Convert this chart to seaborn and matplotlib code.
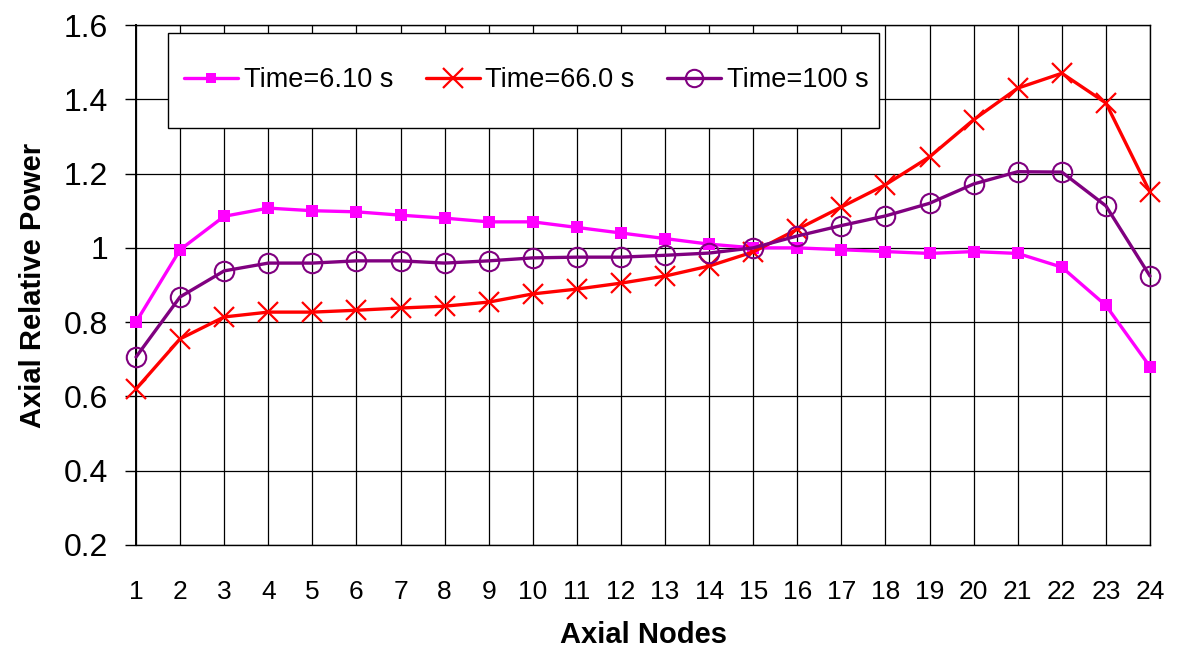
import numpy as np
import pandas as pd
import seaborn as sns
import matplotlib.pyplot as plt
from matplotlib.patches import Rectangle
from matplotlib.ticker import FuncFormatter

nodes = list(range(1, 25))

power_610 = [0.80, 0.995, 1.085, 1.107, 1.10, 1.097, 1.088, 1.08, 1.07, 1.07, 1.055, 1.04,
             1.025, 1.01, 1.0, 1.0, 0.995, 0.99, 0.985, 0.99, 0.985, 0.948, 0.845, 0.68]
power_660 = [0.62, 0.755, 0.814, 0.827, 0.827, 0.832, 0.838, 0.843, 0.854, 0.876, 0.889, 0.905,
             0.924, 0.951, 0.989, 1.05, 1.11, 1.17, 1.245, 1.345, 1.43, 1.47, 1.39, 1.15]
power_100 = [0.706, 0.868, 0.938, 0.959, 0.959, 0.965, 0.965, 0.959, 0.965, 0.973, 0.975, 0.975,
             0.98, 0.986, 1.0, 1.032, 1.06, 1.086, 1.12, 1.172, 1.205, 1.204, 1.113, 0.924]

labels = ["Time=6.10 s", "Time=66.0 s", "Time=100 s"]
colors = ["#FF00FF", "#FF0000", "#800080"]
yTicks = [0.2, 0.4, 0.6, 0.8, 1.0, 1.2, 1.4, 1.6]

sns.set_style("white")
plt.rcParams['font.family'] = ['Liberation Sans', 'DejaVu Sans']
plt.rcParams['text.color'] = 'black'
plt.rcParams['axes.labelcolor'] = 'black'
plt.rcParams['xtick.color'] = 'black'
plt.rcParams['ytick.color'] = 'black'

fig = plt.figure(figsize=(11.78, 6.54), dpi=100)
ax = fig.add_axes([136 / 1178, 1 - 545 / 654, 1014 / 1178, 520 / 654])

# one lineplot per series so each gets its own marker style
styles = [
    dict(marker="s", markersize=9, markeredgewidth=0),
    dict(marker="x", markersize=14, markeredgewidth=1.6),
    dict(marker="o", markersize=14, markeredgewidth=1.5, markerfacecolor="none"),
]
for vals, lab, col, st in zip([power_610, power_660, power_100], labels, colors, styles):
    df = pd.DataFrame({"node": nodes, "power": vals})
    sns.lineplot(data=df, x="node", y="power", color=col, linewidth=2.4,
                 markeredgecolor=col, label=lab, ax=ax, clip_on=False, zorder=3, **st)

ax.set_xlim(1, 24)
ax.set_ylim(0.2, 1.6)
ax.set_xticks(nodes)
ax.set_yticks(yTicks)
ax.yaxis.set_major_formatter(FuncFormatter(lambda v, p: f"{v:g}"))
ax.grid(True, color="black", linewidth=0.9)
for sp in ax.spines.values():
    sp.set_color("black")
    sp.set_linewidth(1.0)
ax.spines["left"].set_linewidth(1.4)

ax.tick_params(axis="y", which="both", left=True, direction="out", length=8, width=1,
               pad=12, labelsize=23)
ax.tick_params(axis="x", bottom=False, pad=22, labelsize=19)

ax.set_xlabel("Axial Nodes", fontsize=21, fontweight="bold", labelpad=12)
ax.set_ylabel("Axial Relative Power", fontsize=21, fontweight="bold", labelpad=12)

# legend box is taller than matplotlib's own frame, so draw it separately
box = Rectangle((0.0316, 0.802), 0.701, 0.183, transform=ax.transAxes,
                facecolor="white", edgecolor="black", linewidth=1.0, zorder=4)
ax.add_patch(box)
leg = ax.legend(loc="center left", bbox_to_anchor=(0.0316, 0.8935), ncol=3, fontsize=19.5,
                frameon=False, handlelength=2.0, handletextpad=0.2, columnspacing=1.2,
                borderpad=0.6, borderaxespad=0)
leg.set_zorder(5)
for h, ms in zip(leg.legend_handles, [7.5, 14, 12.5]):
    h.set_markersize(ms)

fig.savefig("out.png", dpi=100)
